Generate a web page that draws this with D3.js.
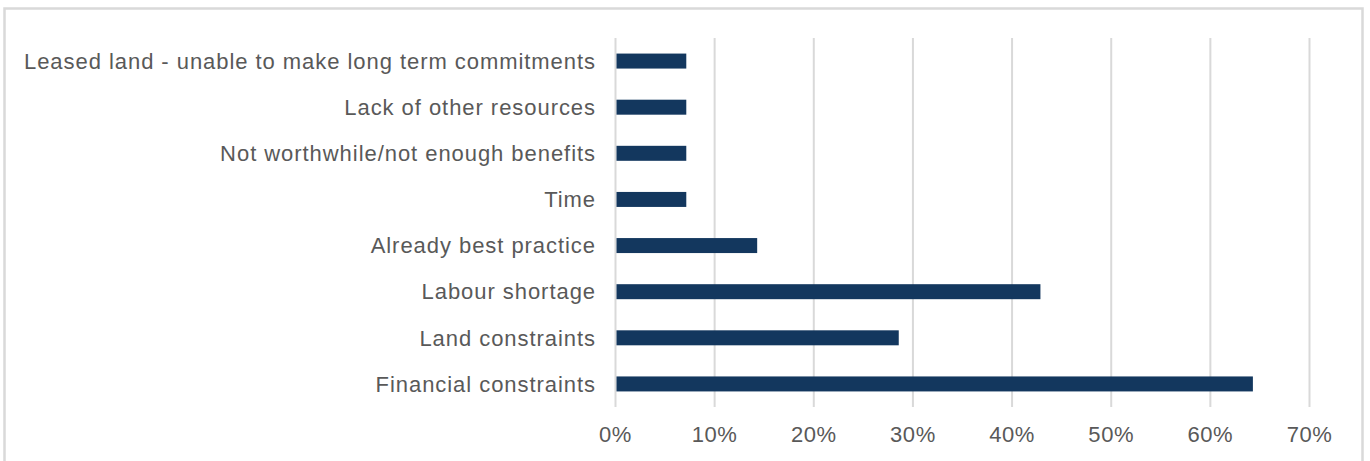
<!DOCTYPE html>
<html><head><meta charset="utf-8">
<script src="https://cdn.jsdelivr.net/npm/d3@7"></script>
<style>body{margin:0;background:#fff;}svg{display:block;}</style>
</head><body>
<svg id="c" width="1370" height="461"></svg>
<script>
const categories = ["Leased land - unable to make long term commitments","Lack of other resources","Not worthwhile/not enough benefits","Time","Already best practice","Labour shortage","Land constraints","Financial constraints"];
const values = [7.14, 7.14, 7.14, 7.14, 14.29, 42.86, 28.57, 64.29];
const tickValues = [0,10,20,30,40,50,60,70];

const svg = d3.select("#c");
svg.append("rect").attr("x",4.5).attr("y",8.5).attr("width",1358).attr("height",470)
  .attr("fill","none").attr("stroke","#d9d9d9").attr("stroke-width",2.5);

const x = d3.scaleLinear().domain([0,70]).range([615.5,1309.5]);
const y = d3.scaleBand().domain(categories).range([38,407]).paddingInner(0.675).paddingOuter(0.3375);

const g = svg.append("g");
g.selectAll("line.grid").data(tickValues).join("line").attr("class","grid")
  .attr("x1",d=>x(d)).attr("x2",d=>x(d)).attr("y1",38).attr("y2",407)
  .attr("stroke","#d9d9d9").attr("stroke-width",2);

g.selectAll("rect.bar").data(values).join("rect").attr("class","bar")
  .attr("x",x(0)+1).attr("y",(d,i)=>y(categories[i]))
  .attr("width",d=>x(d)-x(0)-1).attr("height",y.bandwidth())
  .attr("fill","#13375e");

const font = "'Liberation Sans', Arial, sans-serif";
const fs = 22;
const labels = g.selectAll("text.cat").data(categories).join("text").attr("class","cat")
  .attr("x",596).attr("y",d=>y(d)+y.bandwidth()/2).attr("dy","0.35em")
  .attr("text-anchor","end").attr("font-family",font).attr("font-size",fs)
  .attr("fill","#595959").text(d=>d);
// widen letter spacing so longest label spans same width as reference (~572px)
const longest = labels.filter((d,i)=>i===0).node();
const w0 = longest.getComputedTextLength();
const n0 = categories[0].length;
const ls = Math.max(0,(572 - w0)/n0);
labels.attr("letter-spacing", ls);

g.selectAll("text.tick").data(tickValues).join("text").attr("class","tick")
  .attr("x",d=>x(d)).attr("y",442).attr("text-anchor","middle")
  .attr("font-family",font).attr("font-size",fs).attr("fill","#595959")
  .attr("letter-spacing", ls*0.6)
  .text(d=>d+"%");
</script>
</body></html>
